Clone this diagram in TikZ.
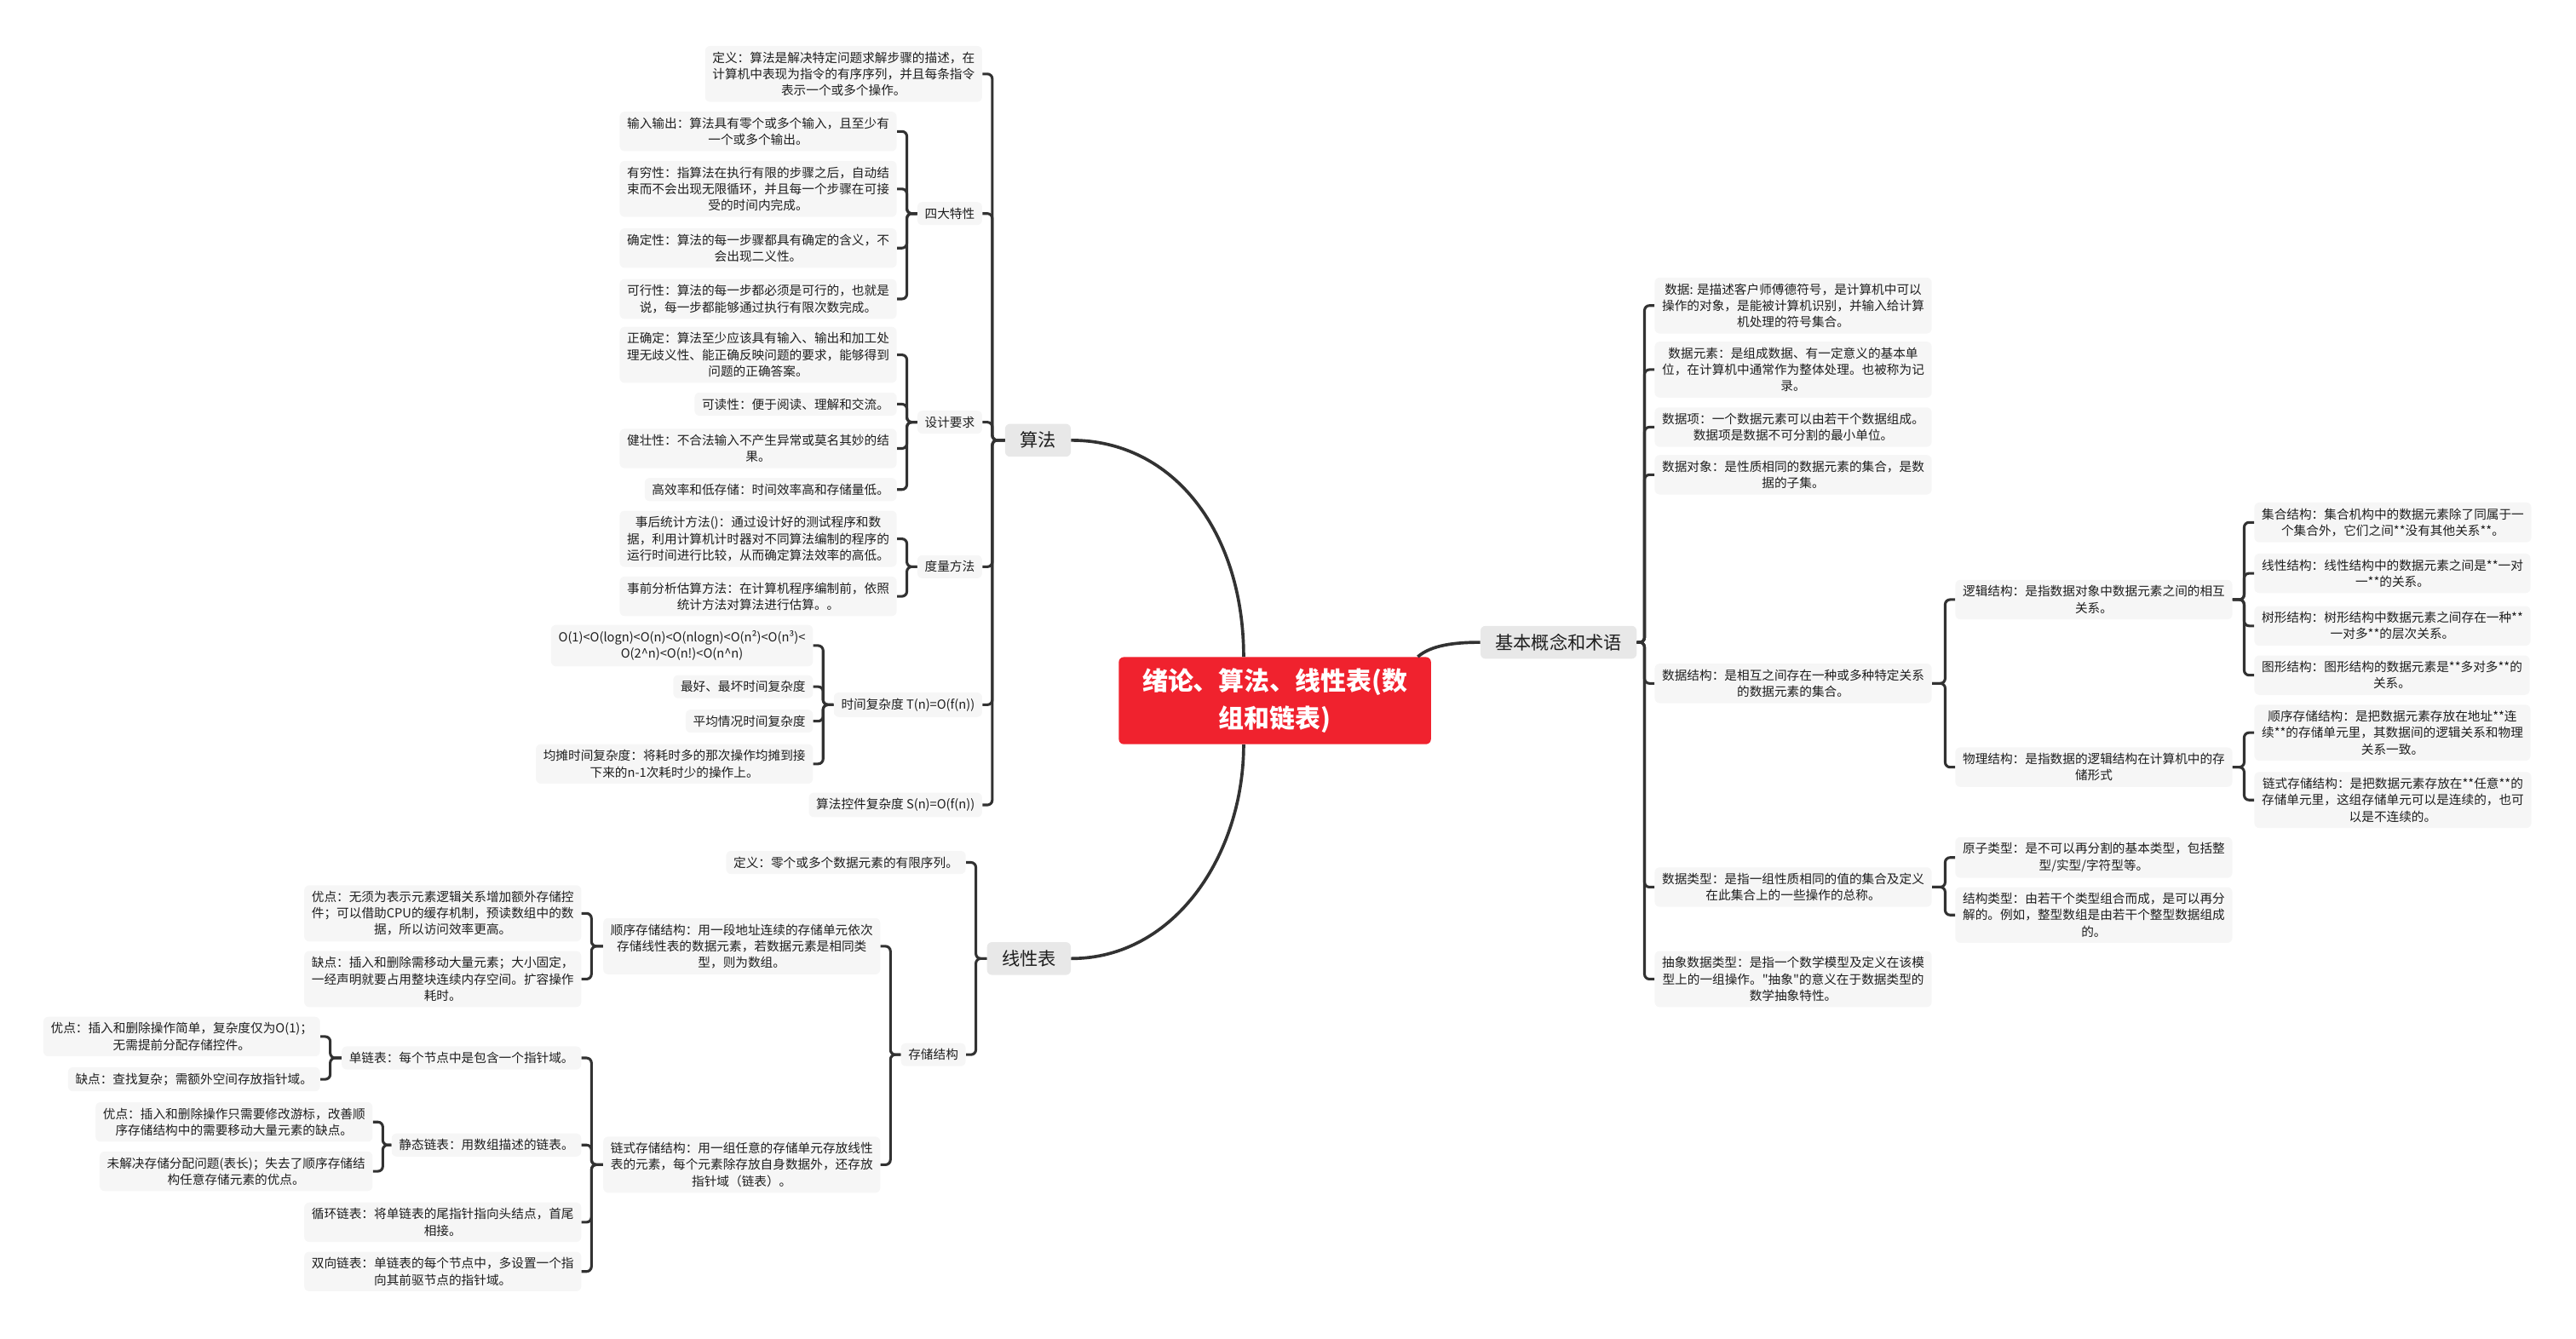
\documentclass[tikz,border=0pt]{standalone}
\usepackage{fontspec}
\setmainfont{Noto Sans CJK SC}
\newfontfamily\plainq{Noto Sans CJK SC}

\definecolor{rootred}{RGB}{240,34,46}
\definecolor{topicgray}{RGB}{232,232,232}
\definecolor{leafgray}{RGB}{246,246,246}
\definecolor{inkgray}{RGB}{50,50,50}
\definecolor{textgray}{RGB}{30,30,30}

\begin{document}
\begin{tikzpicture}[
  x=1pt, y=-1pt,
  leafbox/.style={rectangle, rounded corners=3pt, fill=leafgray, align=center, text=textgray, font=\fontsize{7.6}{10}\selectfont, inner xsep=4.5pt, inner ysep=3.5pt},
  lleaf/.style={leafbox, anchor=east},
  rleaf/.style={leafbox, anchor=west},
  topicbox/.style={rectangle, rounded corners=3pt, fill=topicgray, text=textgray, font=\fontsize{11}{13}\selectfont, minimum height=20pt, inner xsep=9pt},
  rootbox/.style={rectangle, rounded corners=3pt, fill=rootred, text=white, align=center, font=\fontsize{15.5}{23}\selectfont\bfseries, minimum width=190pt, minimum height=53pt},
  wire/.style={draw=inkgray, line width=1.6pt, rounded corners=3pt},
  trunk/.style={draw=inkgray, line width=1.9pt},
]
  \useasboundingbox (0,0) rectangle (1568,815);

  \node[rootbox] (root) at (776,426.5) {绪论、算法、线性表(数\\组和链表)};
  \node[topicbox, anchor=east] (alg) at (652,268) {算法};
  \node[topicbox, anchor=east] (lin) at (652,583.5) {线性表};
  \node[topicbox, anchor=west] (basic) at (901,391) {基本概念和术语};

  \draw[trunk] (alg.east) .. controls +(63,0) and +(0,-75) .. ([xshift=-19pt]root.north);
  \draw[trunk] (lin.east) .. controls +(63,0) and +(0,67) .. ([xshift=-19pt]root.south);
  \draw[trunk] ([xshift=87pt]root.north) .. controls +(8,-7) and +(-16,0) .. (basic.west);

  % 算法
  \node[lleaf] (algdef) at (598,45) {定义：算法是解决特定问题求解步骤的描述，在\\计算机中表现为指令的有序序列，并且每条指令\\表示一个或多个操作。};
  \node[lleaf] (four) at (598,130) {四大特性};
  \node[lleaf] (design) at (598,257) {设计要求};
  \node[lleaf] (measure) at (598,345) {度量方法};
  \node[lleaf] (tcomp) at (598,429) {时间复杂度 T(n)=O(f(n))};
  \node[lleaf] (scomp) at (598,490) {算法控件复杂度 S(n)=O(f(n))};

  \node[lleaf] (io) at (546,80) {输入输出：算法具有零个或多个输入，且至少有\\一个或多个输出。};
  \node[lleaf] (finite) at (546,115) {有穷性：指算法在执行有限的步骤之后，自动结\\束而不会出现无限循环，并且每一个步骤在可接\\受的时间内完成。};
  \node[lleaf] (definite) at (546,151) {确定性：算法的每一步骤都具有确定的含义，不\\会出现二义性。};
  \node[lleaf] (feasible) at (546,182) {可行性：算法的每一步都必须是可行的，也就是\\说，每一步都能够通过执行有限次数完成。};

  \node[lleaf] (correct) at (546,216) {正确定：算法至少应该具有输入、输出和加工处\\理无歧义性、能正确反映问题的要求，能够得到\\问题的正确答案。};
  \node[lleaf] (readable) at (546,246) {可读性：便于阅读、理解和交流。};
  \node[lleaf] (robust) at (546,273) {健壮性：不合法输入不产生异常或莫名其妙的结\\果。};
  \node[lleaf] (efficient) at (546,298) {高效率和低存储：时间效率高和存储量低。};

  \node[lleaf] (post) at (546,328) {事后统计方法()：通过设计好的测试程序和数\\据，利用计算机计时器对不同算法编制的程序的\\运行时间进行比较，从而确定算法效率的高低。};
  \node[lleaf] (prior) at (546,363) {事前分析估算方法：在计算机程序编制前，依照\\统计方法对算法进行估算。。};

  \node[lleaf] (order) at (495,393) {O(1)<O(logn)<O(n)<O(nlogn)<O(n²)<O(n³)<\\O(2\textasciicircum n)<O(n!)<O(n\textasciicircum n)};
  \node[lleaf] (best) at (495,418) {最好、最坏时间复杂度};
  \node[lleaf] (average) at (495,439) {平均情况时间复杂度};
  \node[lleaf] (amort) at (495,465) {均摊时间复杂度：将耗时多的那次操作均摊到接\\下来的n-1次耗时少的操作上。};

  \draw[wire] (algdef.east) -- ++(6,0) |- (alg.west);
  \draw[wire] (four.east) -- ++(6,0) |- (alg.west);
  \draw[wire] (design.east) -- ++(6,0) |- (alg.west);
  \draw[wire] (measure.east) -- ++(6,0) |- (alg.west);
  \draw[wire] (tcomp.east) -- ++(6,0) |- (alg.west);
  \draw[wire] (scomp.east) -- ++(6,0) |- (alg.west);

  \draw[wire] (io.east) -- ++(6,0) |- (four.west);
  \draw[wire] (finite.east) -- ++(6,0) |- (four.west);
  \draw[wire] (definite.east) -- ++(6,0) |- (four.west);
  \draw[wire] (feasible.east) -- ++(6,0) |- (four.west);
  \draw[wire] (correct.east) -- ++(6,0) |- (design.west);
  \draw[wire] (readable.east) -- ++(6,0) |- (design.west);
  \draw[wire] (robust.east) -- ++(6,0) |- (design.west);
  \draw[wire] (efficient.east) -- ++(6,0) |- (design.west);
  \draw[wire] (post.east) -- ++(6,0) |- (measure.west);
  \draw[wire] (prior.east) -- ++(6,0) |- (measure.west);
  \draw[wire] (order.east) -- ++(6,0) |- (tcomp.west);
  \draw[wire] (best.east) -- ++(6,0) |- (tcomp.west);
  \draw[wire] (average.east) -- ++(6,0) |- (tcomp.west);
  \draw[wire] (amort.east) -- ++(6,0) |- (tcomp.west);

  % 线性表
  \node[lleaf] (lindef) at (588,525) {定义：零个或多个数据元素的有限序列。};
  \node[lleaf] (store) at (588,642) {存储结构};
  \node[lleaf] (seq) at (536,576) {顺序存储结构：用一段地址连续的存储单元依次\\存储线性表的数据元素，若数据元素是相同类\\型，则为数组。};
  \node[lleaf] (chain) at (536,709) {链式存储结构：用一组任意的存储单元存放线性\\表的元素，每个元素除存放自身数据外，还存放\\指针域（链表）。};
  \node[lleaf] (seqpro) at (354,556) {优点：无须为表示元素逻辑关系增加额外存储控\\件；可以借助CPU的缓存机制，预读数组中的数\\据，所以访问效率更高。};
  \node[lleaf] (seqcon) at (354,596) {缺点：插入和删除需移动大量元素；大小固定，\\一经声明就要占用整块连续内存空间。扩容操作\\耗时。};
  \node[lleaf] (single) at (354,644) {单链表：每个节点中是包含一个指针域。};
  \node[lleaf] (static) at (354,697) {静态链表：用数组描述的链表。};
  \node[lleaf] (circ) at (354,744) {循环链表：将单链表的尾指针指向头结点，首尾\\相接。};
  \node[lleaf] (dbl) at (354,774) {双向链表：单链表的每个节点中，多设置一个指\\向其前驱节点的指针域。};
  \node[lleaf] (sglpro) at (195,631) {优点：插入和删除操作简单，复杂度仅为O(1)；\\无需提前分配存储控件。};
  \node[lleaf] (sglcon) at (195,657) {缺点：查找复杂；需额外空间存放指针域。};
  \node[lleaf] (stpro) at (227,683) {优点：插入和删除操作只需要修改游标，改善顺\\序存储结构中的需要移动大量元素的缺点。};
  \node[lleaf] (stcon) at (227,713) {未解决存储分配问题(表长)；失去了顺序存储结\\构任意存储元素的优点。};

  \draw[wire] (lindef.east) -- ++(6,0) |- (lin.west);
  \draw[wire] (store.east) -- ++(6,0) |- (lin.west);
  \draw[wire] (seq.east) -- ++(6,0) |- (store.west);
  \draw[wire] (chain.east) -- ++(6,0) |- (store.west);
  \draw[wire] (seqpro.east) -- ++(6,0) |- (seq.west);
  \draw[wire] (seqcon.east) -- ++(6,0) |- (seq.west);
  \draw[wire] (single.east) -- ++(6,0) |- (chain.west);
  \draw[wire] (static.east) -- ++(6,0) |- (chain.west);
  \draw[wire] (circ.east) -- ++(6,0) |- (chain.west);
  \draw[wire] (dbl.east) -- ++(6,0) |- (chain.west);
  \draw[wire] (sglpro.east) -- ++(6,0) |- (single.west);
  \draw[wire] (sglcon.east) -- ++(6,0) |- (single.west);
  \draw[wire] (stpro.east) -- ++(6,0) |- (static.west);
  \draw[wire] (stcon.east) -- ++(6,0) |- (static.west);

  % 基本概念和术语
  \node[rleaf] (data) at (1007,186) {数据: 是描述客户师傅德符号，是计算机中可以\\操作的对象，是能被计算机识别，并输入给计算\\机处理的符号集合。};
  \node[rleaf] (elem) at (1007,225) {数据元素：是组成数据、有一定意义的基本单\\位，在计算机中通常作为整体处理。也被称为记\\录。};
  \node[rleaf] (item) at (1007,260) {数据项：一个数据元素可以由若干个数据组成。\\数据项是数据不可分割的最小单位。};
  \node[rleaf] (obj) at (1007,289) {数据对象：是性质相同的数据元素的集合，是数\\据的子集。};
  \node[rleaf] (struct) at (1007,416) {数据结构：是相互之间存在一种或多种特定关系\\的数据元素的集合。};
  \node[rleaf] (dtype) at (1007,540) {数据类型：是指一组性质相同的值的集合及定义\\在此集合上的一些操作的总称。};
  \node[rleaf] (adt) at (1007,596) {抽象数据类型：是指一个数学模型及定义在该模\\型上的一组操作。{\plainq"}抽象{\plainq"}的意义在于数据类型的\\数学抽象特性。};

  \node[rleaf] (logic) at (1190,365) {逻辑结构：是指数据对象中数据元素之间的相互\\关系。};
  \node[rleaf] (phys) at (1190,467) {物理结构：是指数据的逻辑结构在计算机中的存\\储形式};
  \node[rleaf] (atom) at (1190,522) {原子类型：是不可以再分割的基本类型，包括整\\型/实型/字符型等。};
  \node[rleaf] (compound) at (1190,557) {结构类型：由若干个类型组合而成，是可以再分\\解的。例如，整型数组是由若干个整型数据组成\\的。};

  \node[rleaf] (setst) at (1372,318) {集合结构：集合机构中的数据元素除了同属于一\\个集合外，它们之间**没有其他关系**。};
  \node[rleaf] (linst) at (1372,349) {线性结构：线性结构中的数据元素之间是**一对\\一**的关系。};
  \node[rleaf] (treest) at (1372,381) {树形结构：树形结构中数据元素之间存在一种**\\一对多**的层次关系。};
  \node[rleaf] (graphst) at (1372,411) {图形结构：图形结构的数据元素是**多对多**的\\关系。};
  \node[rleaf] (pseq) at (1372,446) {顺序存储结构：是把数据元素存放在地址**连\\续**的存储单元里，其数据间的逻辑关系和物理\\关系一致。};
  \node[rleaf] (pchain) at (1372,487) {链式存储结构：是把数据元素存放在**任意**的\\存储单元里，这组存储单元可以是连续的，也可\\以是不连续的。};

  \draw[wire] (data.west) -- ++(-6,0) |- (basic.east);
  \draw[wire] (elem.west) -- ++(-6,0) |- (basic.east);
  \draw[wire] (item.west) -- ++(-6,0) |- (basic.east);
  \draw[wire] (obj.west) -- ++(-6,0) |- (basic.east);
  \draw[wire] (struct.west) -- ++(-6,0) |- (basic.east);
  \draw[wire] (dtype.west) -- ++(-6,0) |- (basic.east);
  \draw[wire] (adt.west) -- ++(-6,0) |- (basic.east);
  \draw[wire] (logic.west) -- ++(-6,0) |- (struct.east);
  \draw[wire] (phys.west) -- ++(-6,0) |- (struct.east);
  \draw[wire] (atom.west) -- ++(-6,0) |- (dtype.east);
  \draw[wire] (compound.west) -- ++(-6,0) |- (dtype.east);
  \draw[wire] (setst.west) -- ++(-6,0) |- (logic.east);
  \draw[wire] (linst.west) -- ++(-6,0) |- (logic.east);
  \draw[wire] (treest.west) -- ++(-6,0) |- (logic.east);
  \draw[wire] (graphst.west) -- ++(-6,0) |- (logic.east);
  \draw[wire] (pseq.west) -- ++(-6,0) |- (phys.east);
  \draw[wire] (pchain.west) -- ++(-6,0) |- (phys.east);
\end{tikzpicture}
\end{document}
